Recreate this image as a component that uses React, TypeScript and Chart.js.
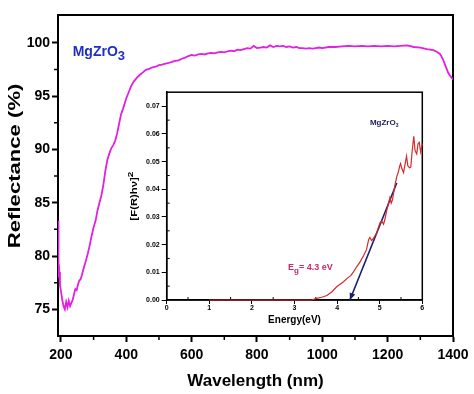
import React, { useEffect, useRef } from "react";
import { Chart, registerables } from "chart.js";
Chart.register(...registerables);

const FONT = "'Liberation Sans', Arial, sans-serif";

// Main spectrum: wavelength (nm) vs reflectance (%)
const wavelength = [
  191, 192, 193, 195, 197, 200, 204, 208, 212, 216,
  220, 224, 228, 232, 236, 240, 244, 248, 252, 256,
  260, 264, 270, 276, 282, 288, 294, 300, 306, 312,
  318, 324, 330, 336, 342, 348, 354, 360, 366, 372,
  378, 384, 390, 396, 400, 408, 416, 424, 432, 440,
  450, 460, 470, 480, 490, 500, 510, 520, 530, 540,
  550, 560, 570, 580, 590, 600, 610, 620, 630, 640,
  650, 660, 670, 680, 690, 700, 710, 720, 730, 740,
  750, 760, 770, 780, 790, 800, 810, 820, 830, 840,
  850, 860, 870, 880, 890, 900, 910, 920, 930, 940,
  950, 960, 970, 980, 990, 1000, 1020, 1040, 1060, 1080,
  1100, 1120, 1140, 1160, 1180, 1200, 1220, 1240, 1260, 1280,
  1300, 1320, 1340, 1350, 1360, 1365, 1370, 1375, 1380, 1385,
  1390, 1395, 1400,
];
const reflectance = [
  83.3, 80.5, 78.0, 78.5, 77.3, 76.7, 75.9, 75.3, 75.0, 75.7,
  75.2, 75.8, 75.3, 75.6, 75.9, 76.4, 76.9, 76.8, 77.3, 77.7,
  77.8, 78.2, 78.9, 79.5, 80.2, 81.0, 81.9, 82.7, 83.3, 84.3,
  85.0, 85.7, 86.7, 88.0, 89.0, 89.6, 90.1, 90.4, 90.8, 91.5,
  92.4, 93.3, 93.8, 94.4, 94.8, 95.4, 96.0, 96.4, 96.7, 96.95,
  97.2, 97.45, 97.55, 97.7, 97.75, 97.9, 97.95, 98.05, 98.1, 98.2,
  98.3, 98.35, 98.5, 98.6, 98.75, 98.85, 98.8, 98.9, 98.95, 98.9,
  99.0, 99.05, 99.0, 99.1, 99.15, 99.1, 99.2, 99.25, 99.2, 99.35,
  99.3, 99.4, 99.5, 99.45, 99.7, 99.5, 99.55, 99.6, 99.55, 99.75,
  99.6, 99.7, 99.65, 99.7, 99.6, 99.65, 99.55, 99.6, 99.5, 99.5,
  99.45, 99.5, 99.45, 99.5, 99.55, 99.5, 99.6, 99.6, 99.65, 99.7,
  99.65, 99.7, 99.65, 99.7, 99.65, 99.7, 99.65, 99.7, 99.75, 99.6,
  99.55, 99.4, 99.3, 99.15, 98.95, 98.7, 98.4, 98.0, 97.6, 97.2,
  96.95, 96.75, 96.55,
];
const mainXTicks = [200, 400, 600, 800, 1000, 1200, 1400];
const mainYTicks = [75, 80, 85, 90, 95, 100];

// Inset: Kubelka-Munk plot
const energy = [
  1.0, 2.0, 3.0, 3.4, 3.52, 3.64, 3.76, 3.88, 3.99, 4.08,
  4.15, 4.25, 4.32, 4.38, 4.46, 4.54, 4.62, 4.69, 4.74, 4.77,
  4.81, 4.85, 4.9, 4.93, 4.97, 5.01, 5.05, 5.09, 5.12, 5.16,
  5.2, 5.24, 5.27, 5.3, 5.33, 5.36, 5.4, 5.44, 5.47, 5.49,
  5.52, 5.56, 5.6, 5.63, 5.66, 5.7, 5.73, 5.76, 5.8, 5.83,
  5.87, 5.9, 5.93, 5.96, 6.0,
];
const kubelka = [
  0, 0, 0, 0, 0.0006, 0.001, 0.0016, 0.003, 0.0048, 0.0058,
  0.0066, 0.008, 0.0088, 0.0101, 0.012, 0.0138, 0.016, 0.0182, 0.0218, 0.0226,
  0.0215, 0.0222, 0.0235, 0.0242, 0.0262, 0.028, 0.0285, 0.0274, 0.029, 0.032,
  0.0345, 0.037, 0.035, 0.0362, 0.039, 0.0417, 0.0445, 0.0464, 0.0485, 0.0493,
  0.0475, 0.046, 0.0495, 0.052, 0.0485, 0.0478, 0.048, 0.0535, 0.0592, 0.054,
  0.0528, 0.0565, 0.057, 0.0535, 0.0565,
];
const tangentEnergy = [5.4, 4.3];
const tangentValue = [0.0423, 0];
const insetXTicks = [0, 1, 2, 3, 4, 5, 6];
const insetYTicks = [0, 0.01, 0.02, 0.03, 0.04, 0.05, 0.06, 0.07];

const mids = (arr: number[]) => arr.slice(1).map((v, i) => (v + arr[i]) / 2);

const framePlugin = {
  id: "frame",
  beforeDatasetsDraw(chart: any, _args: any, opts: any) {
    const { ctx, chartArea: a, scales } = chart;
    ctx.save();
    ctx.strokeStyle = "#000";
    ctx.lineWidth = opts.lineWidth || 2;
    ctx.strokeRect(a.left, a.top, a.right - a.left, a.bottom - a.top);
    const len = opts.minorLen || 4;
    const dir = opts.minorInward ? -1 : 1;
    ctx.lineWidth = opts.minorWidth || 1.5;
    ctx.beginPath();
    (opts.xMinor || []).forEach((v: number) => {
      const px = scales.x.getPixelForValue(v);
      ctx.moveTo(px, a.bottom);
      ctx.lineTo(px, a.bottom + dir * len);
    });
    (opts.yMinor || []).forEach((v: number) => {
      const py = scales.y.getPixelForValue(v);
      ctx.moveTo(a.left, py);
      ctx.lineTo(a.left - dir * len, py);
    });
    ctx.stroke();
    ctx.restore();
  },
};

// vertical axis title, drawn stretched along its length like the reference
const yTitlePlugin = {
  id: "yTitle",
  afterDraw(chart: any, _args: any, opts: any) {
    const { ctx, chartArea: a } = chart;
    ctx.save();
    ctx.translate(opts.x, a.top + (a.bottom - a.top) * opts.frac);
    ctx.rotate(-Math.PI / 2);
    ctx.scale(opts.stretch, 1);
    ctx.fillStyle = "#000";
    ctx.textBaseline = "middle";
    ctx.font = `bold ${opts.size}px ${FONT}`;
    const w1 = ctx.measureText(opts.text).width;
    let w2 = 0;
    if (opts.sup) {
      ctx.font = `bold ${opts.supSize}px ${FONT}`;
      w2 = ctx.measureText(opts.sup).width;
    }
    const start = -(w1 + w2) / 2;
    ctx.textAlign = "left";
    ctx.font = `bold ${opts.size}px ${FONT}`;
    ctx.fillText(opts.text, start, 0);
    if (opts.sup) {
      ctx.font = `bold ${opts.supSize}px ${FONT}`;
      ctx.fillText(opts.sup, start + w1, -opts.supRise);
    }
    ctx.restore();
  },
};

const labelPlugin = {
  id: "labels",
  afterDraw(chart: any, _args: any, opts: any) {
    const { ctx, scales } = chart;
    (opts.items || []).forEach((it: any) => {
      ctx.save();
      ctx.fillStyle = it.color;
      ctx.textBaseline = "alphabetic";
      ctx.textAlign = "left";
      let x = scales.x.getPixelForValue(it.x);
      const y = scales.y.getPixelForValue(it.y);
      ctx.font = `bold ${it.size}px ${FONT}`;
      ctx.fillText(it.main, x, y);
      x += ctx.measureText(it.main).width;
      ctx.font = `bold ${it.subSize}px ${FONT}`;
      ctx.fillText(it.sub, x, y + it.subDrop);
      x += ctx.measureText(it.sub).width;
      if (it.after) {
        ctx.font = `bold ${it.size}px ${FONT}`;
        ctx.fillText(it.after, x, y);
      }
      ctx.restore();
    });
  },
};

const arrowPlugin = {
  id: "arrowHead",
  afterDatasetsDraw(chart: any, _args: any, opts: any) {
    const meta = chart.getDatasetMeta(opts.datasetIndex);
    if (!meta || !meta.data || meta.data.length < 2) return;
    const p0 = meta.data[meta.data.length - 2];
    const p1 = meta.data[meta.data.length - 1];
    const ang = Math.atan2(p1.y - p0.y, p1.x - p0.x);
    const { ctx } = chart;
    const L = 7, W = 3;
    ctx.save();
    ctx.fillStyle = opts.color;
    ctx.beginPath();
    ctx.moveTo(p1.x, p1.y);
    ctx.lineTo(p1.x - L * Math.cos(ang) + W * Math.sin(ang), p1.y - L * Math.sin(ang) - W * Math.cos(ang));
    ctx.lineTo(p1.x - L * Math.cos(ang) - W * Math.sin(ang), p1.y - L * Math.sin(ang) + W * Math.cos(ang));
    ctx.closePath();
    ctx.fill();
    ctx.restore();
  },
};

export default function App() {
  const mainRef = useRef<HTMLCanvasElement>(null);
  const insetRef = useRef<HTMLCanvasElement>(null);

  useEffect(() => {
    document.body.style.margin = "0";
    const mainChart = new Chart(mainRef.current!, {
      type: "line",
      data: {
        datasets: [
          {
            data: wavelength.map((w, i) => ({ x: w, y: reflectance[i] })),
            borderColor: "#e21fe2",
            borderWidth: 1.8,
            pointRadius: 0,
            tension: 0,
          },
        ],
      },
      plugins: [framePlugin, labelPlugin, yTitlePlugin],
      options: {
        animation: false,
        responsive: false,
        maintainAspectRatio: false,
        devicePixelRatio: 1,
        layout: { padding: { top: 15, right: 21, left: 0, bottom: 0 } },
        plugins: {
          legend: { display: false },
          tooltip: { enabled: false },
          frame: { lineWidth: 2, xMinor: mids(mainXTicks), yMinor: mids(mainYTicks), minorLen: 4, minorInward: false, minorWidth: 1.5 },
          yTitle: { text: "Reflectance (%)", size: 17, stretch: 1.3, x: 15, frac: 0.47 },
          labels: {
            items: [
              { x: 236, y: 98.75, main: "MgZrO", sub: "3", after: "", size: 14, subSize: 13, subDrop: 4, color: "#1f2fc4" },
            ],
          },
        } as any,
        scales: {
          x: {
            type: "linear",
            min: 191,
            max: 1400,
            afterBuildTicks: (s: any) => { s.ticks = mainXTicks.map((v) => ({ value: v })); },
            afterFit: (s: any) => { s.height = 58; },
            grid: { drawOnChartArea: false, tickLength: 6, tickWidth: 2, tickColor: "#000" },
            border: { color: "#000", width: 2 },
            ticks: { color: "#000", font: { family: FONT, size: 14, weight: "bold" }, padding: 5, maxRotation: 0, autoSkip: false, callback: (v: any) => String(v) },
            title: { display: true, text: "Wavelength (nm)", color: "#000", font: { family: FONT, size: 17, weight: "bold" }, padding: { top: 0, bottom: 2 } },
          },
          y: {
            type: "linear",
            min: 72.5,
            max: 102.6,
            afterBuildTicks: (s: any) => { s.ticks = mainYTicks.map((v) => ({ value: v })); },
            afterFit: (s: any) => { s.width = 58; },
            grid: { drawOnChartArea: false, tickLength: 6, tickWidth: 2, tickColor: "#000" },
            border: { color: "#000", width: 2 },
            ticks: { color: "#000", font: { family: FONT, size: 14, weight: "bold" }, padding: 2, autoSkip: false, callback: (v: any) => String(v) },
          },
        } as any,
      },
    });

    const insetChart = new Chart(insetRef.current!, {
      type: "line",
      data: {
        datasets: [
          {
            data: energy.map((e, i) => ({ x: e, y: kubelka[i] })),
            borderColor: "#d42a2a",
            borderWidth: 1.2,
            pointRadius: 0,
            tension: 0,
            clip: false,
          },
          {
            data: tangentEnergy.map((e, i) => ({ x: e, y: tangentValue[i] })),
            borderColor: "#1c1f6e",
            borderWidth: 1.6,
            pointRadius: 0,
            tension: 0,
          },
        ],
      },
      plugins: [framePlugin, labelPlugin, arrowPlugin, yTitlePlugin],
      options: {
        animation: false,
        responsive: false,
        maintainAspectRatio: false,
        devicePixelRatio: 1,
        layout: { padding: { top: 4, right: 7.7, left: 0, bottom: 0 } },
        plugins: {
          legend: { display: false },
          tooltip: { enabled: false },
          frame: { lineWidth: 1.5, xMinor: mids(insetXTicks), yMinor: mids(insetYTicks), minorLen: 3, minorInward: true, minorWidth: 1 },
          arrowHead: { datasetIndex: 1, color: "#1c1f6e" },
          yTitle: { text: "[F(R)hν]", sup: "2", size: 9, supSize: 8, supRise: 4, stretch: 1.25, x: 10, frac: 0.5 },
          labels: {
            items: [
              { x: 4.77, y: 0.0633, main: "MgZrO", sub: "3", after: "", size: 8, subSize: 5, subDrop: 2, color: "#1c1f5c" },
              { x: 2.85, y: 0.0107, main: "E", sub: "g", after: "= 4.3 eV", size: 9, subSize: 8, subDrop: 3, color: "#c8286e" },
            ],
          },
        } as any,
        scales: {
          x: {
            type: "linear",
            min: 0,
            max: 6,
            afterBuildTicks: (s: any) => { s.ticks = insetXTicks.map((v) => ({ value: v })); },
            afterFit: (s: any) => { s.height = 30; },
            grid: { drawOnChartArea: false, tickLength: 4, tickWidth: 1, tickColor: "#000" },
            border: { color: "#000", width: 1.5 },
            ticks: { color: "#000", font: { family: FONT, size: 7, weight: "bold" }, padding: 0, maxRotation: 0, autoSkip: false },
            title: { display: true, text: "Energy(eV)", color: "#000", font: { family: FONT, size: 10, weight: "bold" }, padding: { top: 0, bottom: 4 } },
          },
          y: {
            type: "linear",
            min: 0,
            max: 0.0751,
            afterBuildTicks: (s: any) => { s.ticks = insetYTicks.map((v) => ({ value: v })); },
            afterFit: (s: any) => { s.width = 41.7; },
            grid: { drawOnChartArea: false, tickLength: 5, tickWidth: 1, tickColor: "#000" },
            border: { color: "#000", width: 1.5 },
            ticks: { color: "#000", font: { family: FONT, size: 7, weight: "bold" }, padding: 2, autoSkip: false, callback: (v: any) => Number(v).toFixed(2) },
          },
        } as any,
      },
    });

    return () => {
      mainChart.destroy();
      insetChart.destroy();
    };
  }, []);

  return (
    <div style={{ position: "relative", width: 474, height: 394, background: "#fff" }}>
      <canvas ref={mainRef} width={474} height={394} style={{ position: "absolute", left: 0, top: 0, width: 474, height: 394 }} />
      <canvas ref={insetRef} width={305} height={244} style={{ position: "absolute", left: 125, top: 86, width: 305, height: 244 }} />
    </div>
  );
}
